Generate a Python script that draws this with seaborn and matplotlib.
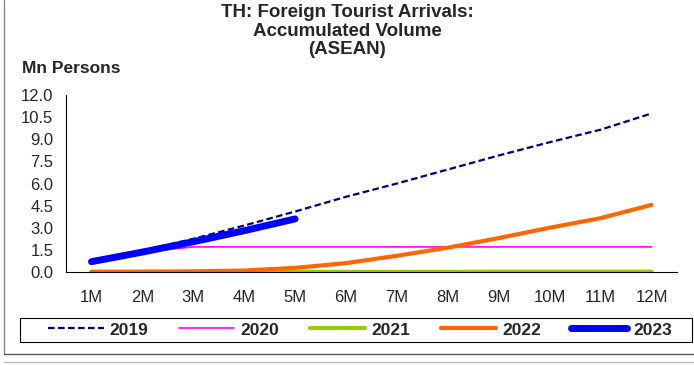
import pandas as pd
import seaborn as sns
import matplotlib.pyplot as plt
from matplotlib.lines import Line2D
from matplotlib.patches import Rectangle

# Accumulated arrivals (Mn persons)
months = ['1M', '2M', '3M', '4M', '5M', '6M', '7M', '8M', '9M', '10M', '11M', '12M']
y2019 = [0.70, 1.45, 2.25, 3.15, 4.10, 5.10, 6.00, 6.95, 7.90, 8.80, 9.65, 10.75]
y2020 = [0.70, 1.35, 1.70, 1.70, 1.70, 1.70, 1.70, 1.70, 1.70, 1.70, 1.70, 1.70]
y2021 = [0.01, 0.01, 0.01, 0.01, 0.01, 0.01, 0.01, 0.01, 0.02, 0.02, 0.02, 0.02]
y2022 = [0.01, 0.02, 0.04, 0.10, 0.28, 0.60, 1.10, 1.65, 2.30, 3.00, 3.65, 4.55]
y2023 = [0.70, 1.35, 2.05, 2.80, 3.60]

series = [
    ('2019', y2019, '#000080', 1.6, (0, (3, 1.5))),
    ('2020', y2020, '#FF00FF', 1.2, '-'),
    ('2021', y2021, '#99CC00', 3.0, '-'),
    ('2022', y2022, '#FF6600', 3.0, '-'),
    ('2023', y2023, '#0000FF', 5.0, '-'),
]

sns.set_style('white')
plt.rcParams['font.family'] = ['Liberation Sans', 'DejaVu Sans']

fig = plt.figure(figsize=(6.94, 3.65), dpi=100)
ax = fig.add_axes([0.0951, 0.2548, 0.8804, 0.4849])

handles = []
for name, vals, color, lw, ls in series:
    df = pd.DataFrame({'x': range(1, len(vals) + 1), 'y': vals})
    sns.lineplot(data=df, x='x', y='y', ax=ax, color=color, linewidth=lw,
                 linestyle=ls, solid_capstyle='round', dash_capstyle='butt')
    handles.append(Line2D([], [], color=color, linewidth=lw, linestyle=ls,
                          solid_capstyle='round', label=name))

ax.set_xlim(0.5, 12.5)
ax.set_ylim(0, 12)
ax.set_yticks([i * 1.5 for i in range(9)])
ax.set_yticklabels([f'{i * 1.5:.1f}' for i in range(9)], fontsize=12)
ax.set_xticks(range(1, 13))
ax.set_xticklabels(months, fontsize=12)
ax.set_xticks([i + 0.5 for i in range(13)], minor=True)
ax.tick_params(axis='x', which='major', length=0, pad=13)
ax.tick_params(axis='x', which='minor', length=5, width=0.8, color='black', direction='out')
ax.tick_params(axis='y', length=5, width=0.8, color='black', direction='out', pad=4)
ax.set_xlabel('')
ax.set_ylabel('')
for side in ['top', 'right']:
    ax.spines[side].set_visible(False)
for side in ['left', 'bottom']:
    ax.spines[side].set_color('black')
    ax.spines[side].set_linewidth(0.8)

fig.text(0.5, 0.988, 'TH: Foreign Tourist Arrivals:\nAccumulated Volume\n(ASEAN)',
         ha='center', va='top', fontsize=13.5, fontweight='bold', linespacing=1.1)
fig.text(0.032, 0.813, 'Mn Persons', ha='left', va='center', fontsize=12.5, fontweight='bold')

# legend frame drawn as its own box, legend entries centred inside it
fig.add_artist(Rectangle((20 / 694, 1 - 342 / 365), 672 / 694, 24 / 365,
                         transform=fig.transFigure, fill=False,
                         edgecolor='black', linewidth=0.8))
fig.legend(handles=handles, loc='center', ncol=5,
           bbox_to_anchor=(360 / 694, 1 - 330 / 365), frameon=False,
           handlelength=3.2, handletextpad=0.35, columnspacing=1.75,
           borderpad=0, prop={'weight': 'bold', 'size': 12.5})

# outer panel border lines
fig.add_artist(Line2D([0.006, 0.006], [0.03, 1.0], color='#888888', linewidth=1.0))
fig.add_artist(Line2D([0.006, 1.0], [0.03, 0.03], color='#555555', linewidth=1.0))
fig.add_artist(Line2D([0.006, 1.0], [0.008, 0.008], color='#bbbbbb', linewidth=1.0))

fig.savefig('out.png', dpi=100)
